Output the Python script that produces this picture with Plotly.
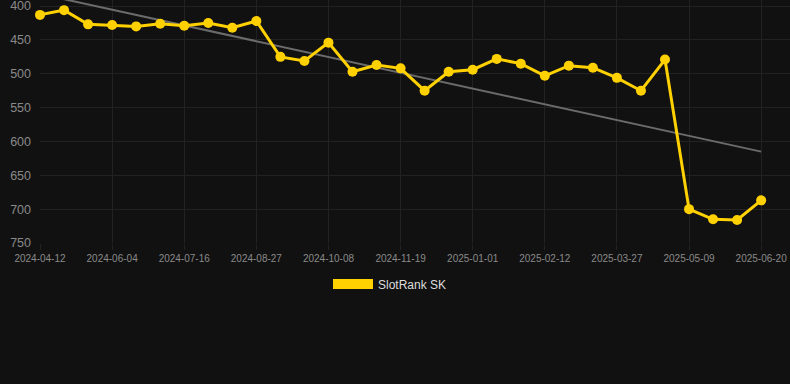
import plotly.graph_objects as go

dates = [
    "2024-04-12", "2024-04-30", "2024-05-17", "2024-06-04", "2024-06-18", "2024-07-02",
    "2024-07-16", "2024-07-30", "2024-08-13", "2024-08-27", "2024-09-10", "2024-09-24",
    "2024-10-08", "2024-10-22", "2024-11-05", "2024-11-19", "2024-12-03", "2024-12-17",
    "2025-01-01", "2025-01-15", "2025-01-29", "2025-02-12", "2025-02-26", "2025-03-12",
    "2025-03-27", "2025-04-10", "2025-04-24", "2025-05-09", "2025-05-23", "2025-06-06",
    "2025-06-20",
]
rank = [
    413, 406, 427, 428, 430, 426, 429, 425, 432, 422,
    475, 481, 454, 497, 487, 492, 525, 497, 494, 478,
    485, 503, 488, 491, 506, 525, 479, 700, 715, 716, 687,
]
trend_x = [dates[0], dates[-1]]
trend_y = [382, 615]
tick_dates = dates[::3]
y_ticks = [400, 450, 500, 550, 600, 650, 700, 750]
series_name = "SlotRank SK"

gold = "#FFD100"
grid = "#222222"

fig = go.Figure()
fig.add_trace(go.Scatter(
    x=trend_x, y=trend_y, mode="lines",
    line=dict(color="#6b6b6b", width=2),
    showlegend=False, hoverinfo="skip",
))
fig.add_trace(go.Scatter(
    x=dates, y=rank, mode="lines+markers",
    line=dict(color=gold, width=3),
    marker=dict(color=gold, size=10),
    showlegend=False, cliponaxis=False,
))
fig.add_trace(go.Scatter(
    x=[None], y=[None], mode="lines",
    line=dict(color=gold, width=11),
    name=series_name, showlegend=True,
))

fig.update_layout(
    width=790, height=384,
    margin=dict(l=40, r=0, t=0, b=141),
    paper_bgcolor="#111111", plot_bgcolor="#111111",
    font=dict(family="Liberation Sans, Arial, sans-serif", color="#8a8a8a"),
    showlegend=True,
    legend=dict(
        orientation="h", xref="container", x=0.5 - 5 / 790, xanchor="center",
        yref="container", y=100/384, yanchor="middle",
        itemwidth=40,
        font=dict(size=12, color="#dddddd"),
        bgcolor="rgba(0,0,0,0)",
    ),
    xaxis=dict(
        type="category", categoryorder="array", categoryarray=dates,
        range=[0, 31.2],
        tickmode="array", tickvals=tick_dates, ticktext=tick_dates,
        showgrid=True, gridcolor=grid, gridwidth=1,
        ticks="outside", ticklen=6, tickcolor=grid,
        tickfont=dict(size=10, color="#8a8a8a"),
        ticklabeloverflow="allow",
        zeroline=False, showline=False,
    ),
    yaxis=dict(
        range=[750, 391],
        tickmode="array", tickvals=y_ticks,
        showgrid=True, gridcolor=grid, gridwidth=1,
        tickfont=dict(size=12.5, color="#8a8a8a"),
        ticklabelstandoff=8,
        ticklabeloverflow="allow",
        zeroline=False, showline=False,
    ),
)

fig.write_html(
    "out.html",
    config={"displayModeBar": False},
    post_script="document.body.style.margin='0';document.body.style.background='#111111';",
)
